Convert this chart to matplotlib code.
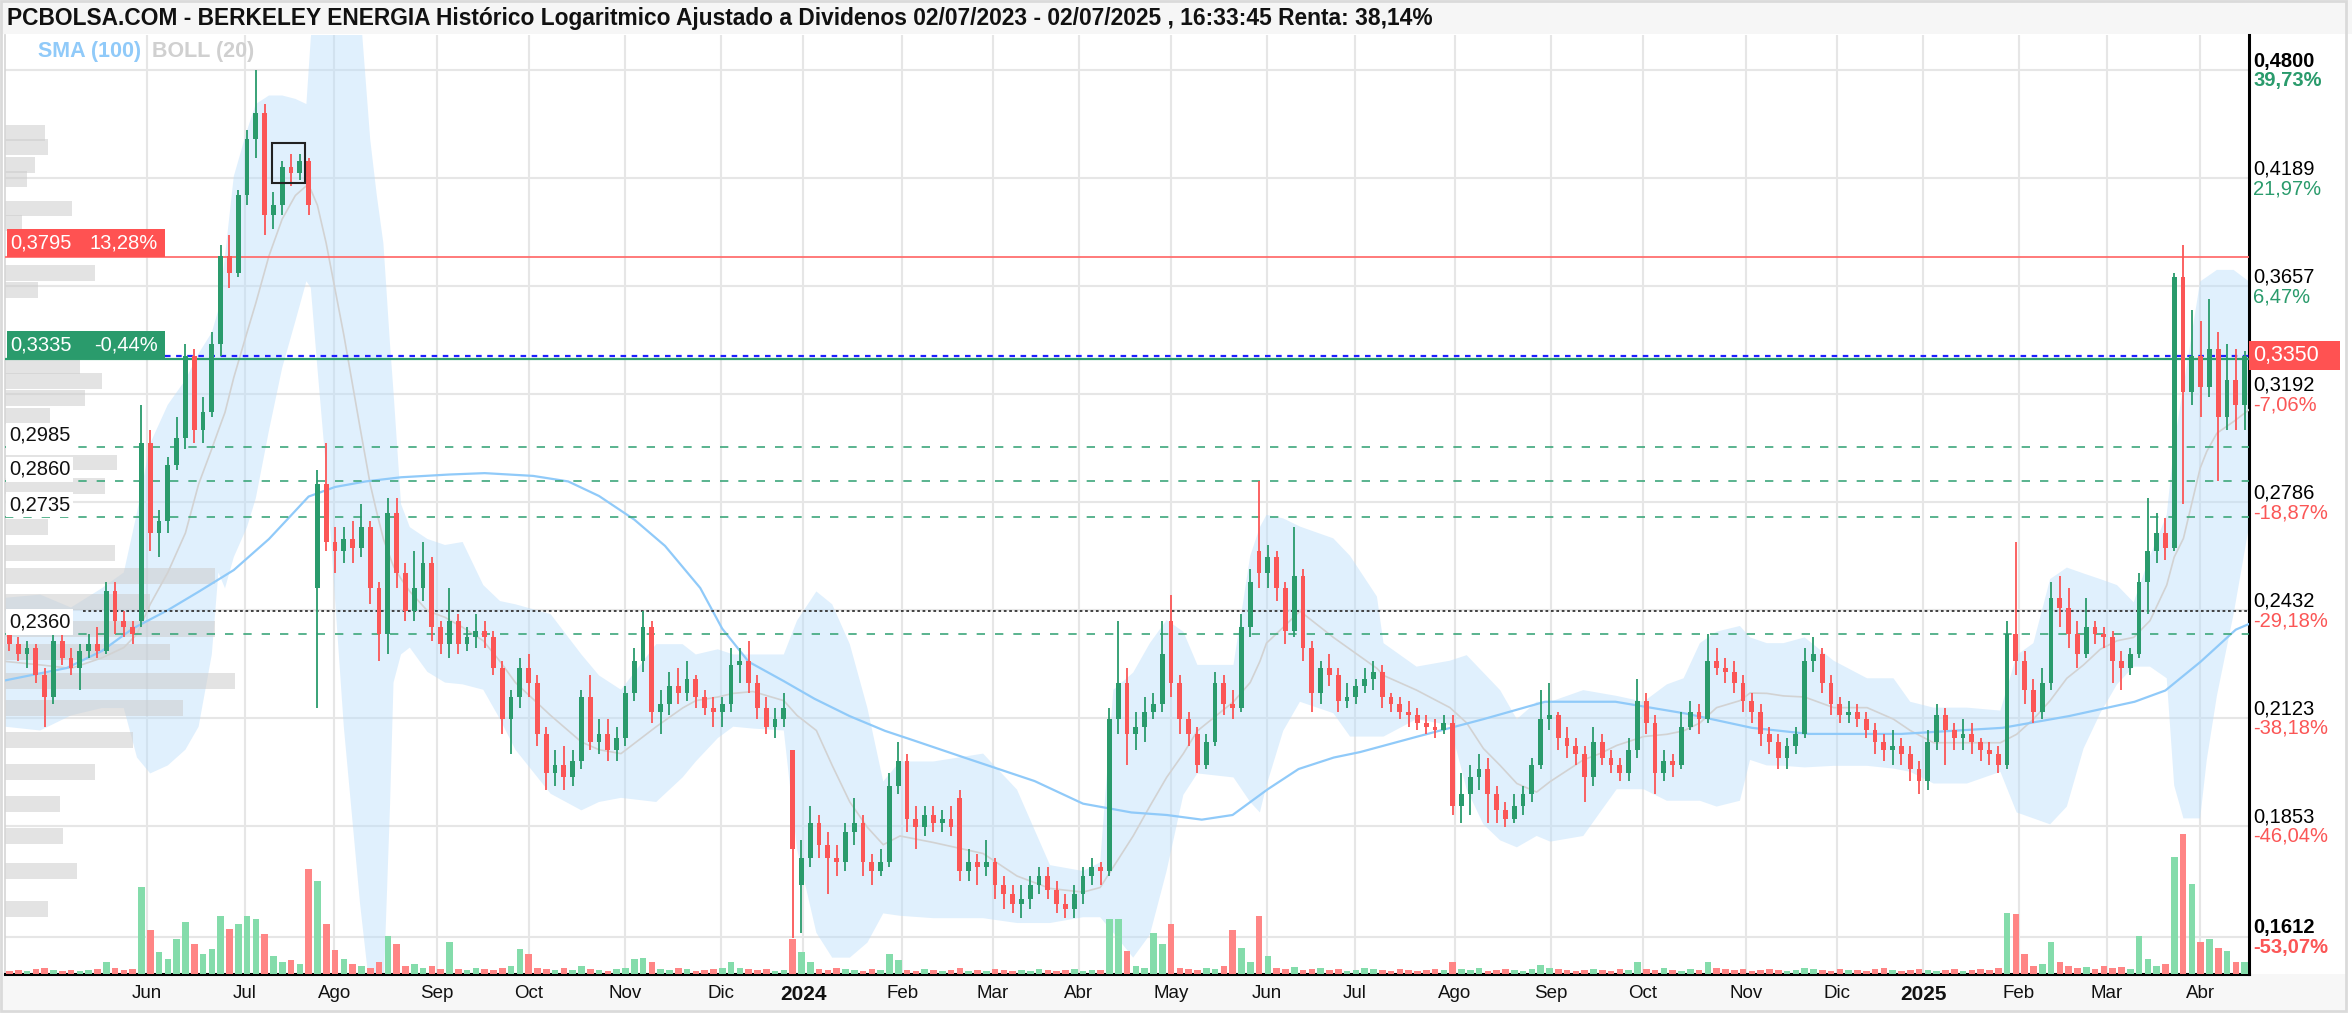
import numpy as np
import matplotlib
matplotlib.use("Agg")
import matplotlib.pyplot as plt
from matplotlib.patches import Rectangle
from matplotlib.transforms import blended_transform_factory, IdentityTransform

plt.rcParams['font.family'] = ['Liberation Sans', 'DejaVu Sans']

#####################################################################
### Datos (una vela cada dos sesiones, eje x = indice de sesion)

opens = [.236,.233,.230,.232,.224,.218,.234,.229,.226,.231,
         .233,.231,.249,.240,.238,.240,.300,.268,.272,.292,
         .302,.335,.305,.312,.340,.380,.372,.410,.440,.455,
         .400,.405,.425,.422,.428,.250,.285,.265,.262,.266,
         .263,.270,.250,.236,.275,.255,.243,.250,.258,.238,
         .233,.240,.233,.235,.237,.235,.226,.212,.218,.226,
         .222,.208,.198,.200,.197,.201,.218,.206,.208,.204,
         .207,.219,.228,.238,.214,.216,.221,.219,.223,.218,
         .215,.214,.216,.227,.228,.222,.215,.210,.212,.204,
         .172,.178,.186,.181,.178,.177,.184,.186,.177,.175,
         .177,.195,.201,.187,.185,.188,.186,.187,.192,.175,
         .177,.176,.177,.172,.170,.168,.169,.172,.174,.171,
         .168,.167,.170,.174,.176,.175,.212,.222,.208,.210,
         .214,.216,.240,.222,.212,.208,.200,.206,.222,.216,
         .215,.238,.262,.255,.260,.250,.237,.254,.232,.219,
         .226,.224,.217,.218,.221,.223,.225,.218,.216,.214,
         .213,.211,.210,.209,.211,.190,.193,.197,.199,.193,
         .189,.187,.190,.193,.200,.212,.213,.207,.205,.203,
         .197,.206,.202,.200,.198,.204,.217,.211,.198,.201,
         .200,.210,.214,.212,.228,.226,.225,.222,.217,.214,
         .208,.206,.202,.205,.208,.228,.230,.222,.216,.213,
         .214,.212,.209,.206,.204,.205,.203,.199,.196,.206,
         .213,.209,.207,.208,.206,.204,.203,.200,.236,.228,
         .220,.214,.222,.247,.244,.236,.230,.238,.236,.235,
         .228,.226,.230,.252,.262,.268,.263,.370,.320,.335,
         .322,.338,.310,.325,.315]

closes = [.233,.230,.232,.224,.218,.234,.229,.226,.231,.233,
          .231,.249,.240,.238,.236,.300,.268,.272,.292,.302,
          .335,.305,.312,.340,.380,.372,.410,.440,.455,.400,
          .405,.425,.422,.428,.405,.285,.265,.262,.266,.263,
          .270,.250,.236,.275,.255,.243,.250,.258,.238,.233,
          .240,.233,.235,.237,.235,.226,.212,.218,.226,.222,
          .208,.198,.200,.197,.201,.218,.206,.208,.204,.207,
          .219,.228,.238,.214,.216,.221,.219,.223,.218,.215,
          .214,.216,.227,.228,.222,.215,.210,.212,.215,.180,
          .178,.186,.181,.178,.177,.184,.186,.177,.175,.177,
          .195,.201,.187,.185,.188,.186,.187,.185,.175,.177,
          .176,.177,.172,.170,.168,.169,.172,.174,.171,.168,
          .167,.170,.174,.176,.175,.212,.222,.208,.210,.214,
          .216,.230,.222,.212,.208,.200,.206,.222,.216,.215,
          .238,.252,.255,.260,.250,.237,.254,.232,.219,.226,
          .224,.217,.218,.221,.223,.225,.218,.216,.214,.213,
          .211,.210,.209,.211,.190,.193,.197,.199,.193,.189,
          .187,.190,.193,.200,.212,.213,.207,.205,.203,.197,
          .206,.202,.200,.198,.204,.217,.211,.198,.201,.200,
          .210,.214,.212,.228,.226,.225,.222,.217,.214,.208,
          .206,.202,.205,.208,.228,.230,.222,.216,.213,.214,
          .212,.209,.206,.204,.205,.203,.199,.196,.206,.213,
          .209,.207,.208,.206,.204,.203,.200,.236,.228,.220,
          .214,.222,.247,.244,.236,.230,.238,.236,.235,.228,
          .226,.230,.252,.262,.268,.263,.370,.320,.335,.322,
          .338,.310,.325,.315,.335]

highs = [.238,.235,.234,.233,.226,.236,.236,.232,.233,.236,
         .238,.252,.252,.243,.240,.315,.305,.276,.295,.310,
         .340,.338,.318,.345,.385,.390,.413,.445,.480,.460,
         .412,.428,.432,.432,.430,.290,.300,.270,.270,.272,
         .278,.272,.252,.280,.280,.258,.262,.265,.260,.240,
         .250,.242,.238,.242,.240,.237,.228,.220,.229,.230,
         .224,.210,.204,.205,.204,.220,.224,.212,.212,.210,
         .221,.232,.243,.240,.220,.225,.226,.228,.224,.220,
         .218,.218,.232,.232,.234,.224,.218,.215,.219,.204,
         .182,.190,.188,.184,.181,.186,.192,.188,.179,.180,
         .198,.206,.203,.190,.190,.190,.189,.190,.194,.180,
         .179,.182,.178,.174,.172,.172,.174,.176,.176,.173,
         .170,.172,.176,.178,.177,.215,.240,.226,.214,.218,
         .219,.240,.248,.224,.214,.210,.208,.225,.224,.220,
         .242,.256,.286,.264,.262,.252,.270,.256,.234,.228,
         .230,.226,.222,.223,.226,.228,.227,.219,.218,.217,
         .215,.213,.212,.213,.213,.198,.200,.203,.202,.195,
         .191,.193,.195,.202,.220,.222,.214,.210,.207,.205,
         .210,.208,.204,.202,.207,.223,.219,.213,.204,.203,
         .214,.217,.216,.236,.232,.229,.228,.224,.219,.216,
         .210,.208,.207,.210,.232,.235,.232,.224,.218,.217,
         .216,.214,.211,.208,.209,.207,.205,.201,.209,.216,
         .215,.211,.212,.211,.207,.206,.205,.240,.265,.231,
         .223,.226,.252,.254,.250,.240,.247,.240,.238,.237,
         .231,.232,.255,.280,.275,.273,.372,.385,.355,.350,
         .360,.345,.340,.338,.337]

lows = [.231,.228,.226,.222,.210,.216,.227,.224,.220,.229,
        .229,.230,.236,.235,.233,.238,.262,.260,.268,.290,
        .298,.300,.300,.310,.335,.365,.370,.405,.430,.390,
        .393,.400,.415,.418,.400,.215,.262,.255,.258,.258,
        .260,.245,.228,.230,.250,.240,.240,.246,.234,.230,
        .229,.230,.231,.232,.232,.224,.208,.203,.215,.218,
        .205,.194,.195,.194,.195,.199,.204,.203,.201,.201,
        .205,.217,.225,.211,.208,.213,.216,.217,.215,.213,
        .210,.210,.214,.222,.219,.212,.208,.207,.210,.161,
        .162,.176,.178,.170,.174,.175,.181,.174,.172,.174,
        .176,.193,.184,.180,.183,.184,.184,.183,.173,.173,
        .172,.174,.169,.167,.166,.165,.167,.170,.169,.166,
        .165,.165,.168,.172,.172,.174,.208,.200,.204,.206,
        .212,.214,.218,.208,.205,.198,.199,.205,.213,.212,
        .214,.235,.250,.250,.246,.233,.235,.228,.214,.216,
        .221,.214,.215,.216,.219,.220,.215,.214,.212,.210,
        .209,.208,.207,.208,.188,.186,.188,.194,.186,.186,
        .185,.186,.188,.191,.199,.209,.204,.202,.200,.191,
        .195,.200,.198,.196,.196,.202,.208,.193,.196,.197,
        .199,.209,.208,.211,.224,.222,.219,.214,.211,.205,
        .203,.199,.199,.203,.207,.225,.219,.213,.211,.211,
        .210,.207,.203,.201,.200,.200,.196,.193,.194,.204,
        .200,.204,.204,.203,.201,.200,.198,.199,.224,.216,
        .211,.212,.220,.238,.232,.226,.229,.233,.232,.222,
        .220,.224,.229,.242,.258,.259,.262,.278,.315,.310,
        .318,.286,.305,.305,.305]

volume = [3,4,3,5,6,4,3,4,3,4,
          5,12,6,4,5,87,44,22,15,35,
          52,30,20,25,58,45,50,58,55,40,
          18,12,14,10,105,93,50,24,15,10,
          8,6,12,38,30,8,10,6,8,5,
          32,5,4,6,5,4,6,8,25,20,
          6,5,4,6,4,8,5,4,3,5,
          6,15,16,12,5,4,6,5,3,4,
          5,6,12,6,5,4,5,3,4,35,
          22,12,5,4,6,5,4,3,5,4,
          20,14,4,3,5,4,3,4,6,3,
          4,3,5,4,3,4,3,5,4,3,
          4,5,3,4,4,55,55,23,8,6,
          41,30,50,6,5,4,6,5,8,44,
          26,12,58,18,6,5,7,4,5,6,
          4,5,3,4,6,5,4,3,5,4,
          3,4,5,4,12,5,4,6,3,4,
          5,4,3,5,9,6,5,4,3,4,
          5,4,3,5,4,12,5,4,6,4,
          3,5,4,12,6,5,4,5,3,4,
          5,4,3,4,6,5,4,3,5,4,
          4,3,5,6,4,3,4,5,4,3,
          4,5,3,4,5,4,6,61,60,20,
          8,10,32,12,8,6,7,5,8,6,
          7,5,38,15,8,10,117,140,90,32,
          35,26,23,12,12]

# SMA (100)
sma_day = [0,14,22,29,37,44,52,60,65,69,75,82,90,101,109,120,128,135,143,150,
           158,163,169,177,184,192,200,206,218,234,245,256,264,272,279,287,294,302,308,321,
           336,350,366,382,397,410,431,454,469,484,491,499,507,510]
sma_val = [.2226,.2261,.2310,.2376,.2432,.2489,.2558,.2660,.2740,.2806,
           .2840,.2860,.2875,.2885,.2890,.2880,.2860,.2808,.2726,.2637,
           .2501,.2376,.2279,.2224,.2175,.2128,.2089,.2066,.2020,.1961,
           .1906,.1885,.1879,.1868,.1879,.1941,.1991,.2020,.2034,.2074,
           .2120,.2167,.2167,.2135,.2097,.2081,.2081,.2097,.2128,.2167,
           .2198,.2279,.2373,.2390]

# BOLL (20)
bb_day = [0,8,15,22,27,30,33,37,41,44,
          47,48.5,50,52,55,57,60,63,66,68.5,
          69.5,71,73,77,80.7,83,84.5,86,87.5,88.3,
          90,92,96,100,104,108.7,112.5,116,124,131,
          135,140,148,154,157,162,165.5,170,177,180,
          184.4,188,192,196,199.6,203.4,211,222.3,230,237.5,
          245,248.9,251.9,256.4,260.2,264,267.8,271,279.2,283,
          285.2,286.7,290.5,294.3,301.9,305.7,311.8,313.3,320.8,328.4,
          332.2,336,339.8,343.6,348.1,351.2,358.7,362.5,366.3,372.4,
          377.7,381.5,385.2,389,394.3,396.6,400.4,404.2,409,415.6,
          423.2,429.2,433,438.3,445.9,453.5,457.2,461,464.8,468.6,
          472.4,476.2,480,483.8,487.5,491.3,493,495.1,498.9,500.4,
          502.7,506.5,510]
bb_up = [.247,.248,.244,.250,.255,.275,.300,.315,.325,.336,
         .345,.355,.380,.420,.445,.460,.465,.465,.463,.460,
         .500,.540,.560,.570,.520,.440,.410,.386,.340,.320,
         .278,.270,.266,.264,.265,.251,.246,.245,.242,.230,
         .224,.220,.233,.233,.230,.2315,.230,.230,.230,.240,
         .249,.245,.233,.215,.196,.201,.201,.203,.194,.1764,
         .1751,.177,.220,.2248,.2333,.2402,.2367,.227,.227,.2604,
         .270,.2742,.273,.2702,.2662,.2604,.2474,.2333,.2265,.2282,
         .2298,.2248,.2199,.212,.2167,.2167,.2199,.2191,.2183,.2167,
         .2215,.2232,.2333,.2367,.2384,.235,.2333,.2333,.235,.2282,
         .2232,.2232,.2167,.2151,.2151,.2143,.2298,.2333,.2529,.2566,
         .2547,.2529,.251,.2456,.2604,.2742,.300,.3223,.3679,.370,
         .3733,.3733,.3679]
bb_mid = [.228,.227,.226,.229,.232,.236,.245,.255,.268,.285,
          .298,.305,.312,.326,.345,.358,.380,.398,.410,.415,
          .413,.405,.386,.344,.306,.285,.275,.266,.260,.257,
          .253,.249,.243,.241,.238,.234,.228,.222,.213,.206,
          .204,.203,.210,.215,.217,.218,.219,.2195,.217,.213,
          .209,.200,.191,.185,.181,.183,.1815,.179,.174,.1713,
          .1705,.1715,.176,.183,.190,.197,.203,.2089,.2167,.222,
          .228,.2333,.238,.2429,.235,.2315,.226,.224,.2199,.2151,
          .211,.2043,.200,.1955,.1934,.196,.2014,.203,.2051,.2074,
          .208,.2089,.211,.2151,.217,.2191,.219,.2183,.218,.2151,
          .2151,.212,.209,.2058,.2058,.2058,.208,.212,.217,.2232,
          .227,.2315,.234,.235,.240,.251,.260,.2662,.2908,.297,
          .3039,.3084,.313]
bb_low = [.210,.209,.213,.215,.215,.202,.198,.200,.204,.210,
          .230,.255,.250,.260,.270,.280,.305,.330,.350,.368,
          .365,.330,.290,.210,.168,.150,.145,.150,.190,.222,
          .230,.232,.225,.222,.2215,.220,.212,.204,.193,.189,
          .191,.192,.191,.197,.201,.207,.210,.2095,.209,.180,
          .162,.157,.157,.160,.166,.1655,.165,.165,.164,.164,
          .1652,.1652,.162,.157,.1616,.1751,.1927,.198,.197,.191,
          .1885,.195,.2089,.2167,.2136,.2074,.2074,.2074,.212,.2104,
          .1941,.1857,.182,.1804,.183,.1817,.183,.1885,.1941,.1941,
          .1913,.1913,.1913,.1899,.1913,.2014,.200,.1999,.1995,.1999,
          .1999,.1992,.1984,.1955,.1955,.1984,.1885,.1871,.1857,.1899,
          .2043,.2136,.2215,.2265,.2265,.2232,.195,.1871,.1871,.2014,
          .2183,.242,.2702]

# perfil de volumen (izquierda)
vp_price = [.4437,.4357,.4261,.4184,.4033,.3960,.3720,.3639,.3307,.3247,
            .3176,.3106,.2929,.2845,.2702,.2614,.2539,.2456,.2376,.2307,
            .2224,.2151,.2066,.1984,.1906,.1830,.1751,.1670]
vp_volume = [40,43,30,22,67,17,90,33,75,97,
             80,45,112,100,43,110,210,145,210,165,
             230,178,128,90,55,58,72,43]

# eje de fechas
month_pos = [32.3,54.5,74.8,98.2,119,141,162.7,181.4,203.9,224.5,244,265,
             286.8,306.8,329.5,351.4,372.3,395.7,416.4,436,457.7,477.7,498.9]
month_lbl = ['Jun','Jul','Ago','Sep','Oct','Nov','Dic','2024','Feb','Mar','Abr','May',
             'Jun','Jul','Ago','Sep','Oct','Nov','Dic','2025','Feb','Mar','Abr']

# escala derecha
right_ticks = [0.4800,0.4189,0.3657,0.3192,0.2786,0.2432,0.2123,0.1853,0.1612]
right_pct = ['39,73%','21,97%','6,47%','-7,06%','-18,87%','-29,18%','-38,18%','-46,04%','-53,07%']

# niveles
resist_lvl, resist_txt = 0.3795, ['0,3795', '13,28%']
support_lvl, support_txt = 0.3335, ['0,3335', '-0,44%']
last_price = 0.3350
dashed_lvls = [0.2985, 0.2860, 0.2735, 0.2360]
ref_lvl = 0.2428
box_days, box_prices = (60.7, 68.2), (0.4165, 0.438)

title = ("PCBOLSA.COM - BERKELEY ENERGIA Histórico Logaritmico Ajustado a Dividenos "
         "02/07/2023 - 02/07/2025 , 16:33:45 Renta: 38,14%")

#####################################################################
### Figura

GREEN, RED = '#2a9b6c', '#fb5656'
VGREEN, VRED = '#84dcab', '#ff8585'

W, H = 2352, 1016
fig = plt.figure(figsize=(W / 100, H / 100), dpi=100)
fig.patch.set_facecolor('white')
fig.patches.append(Rectangle((0, 1 - 34 / H), 1, 34 / H, transform=fig.transFigure,
                             fc='#f6f6f6', ec='none', zorder=-2))
fig.patches.append(Rectangle((0, 6 / H), 2346 / W, 36 / H, transform=fig.transFigure,
                             fc='#f7f7f7', ec='none', zorder=-2))
fig.patches.append(Rectangle((1 / W, 5 / H), 2345 / W, 1 - 6 / H, transform=fig.transFigure,
                             fill=False, ec='#dadada', lw=2, zorder=-1))

ax = fig.add_axes([5 / W, 42 / H, 2244 / W, 939 / H])
ax.set_yscale('log')
ax.set_xlim(0, 510)
ax.set_ylim(0.1538, 0.5018)
ax.yaxis.set_major_locator(matplotlib.ticker.NullLocator())
ax.yaxis.set_minor_locator(matplotlib.ticker.NullLocator())
ax.set_facecolor('none')

for p in right_ticks:
    ax.axhline(p, color='#e6e6e6', lw=1.5, zorder=0)
for m in month_pos:
    ax.axvline(m, color='#e6e6e6', lw=1.5, zorder=0)

# bandas de bollinger y medias
ax.fill_between(bb_day, bb_low, bb_up, color='#bbdefb', alpha=0.45, lw=0, zorder=1)
ax.plot(bb_day, bb_mid, color='#d2d2d2', lw=1.2, zorder=3)
ax.plot(sma_day, sma_val, color='#90caf9', lw=1.6, zorder=3)

# perfil de volumen
tp = blended_transform_factory(ax.transAxes, ax.transData)
vp_price = np.array(vp_price)
ax.barh(vp_price, np.array(vp_volume) / 2244, height=vp_price * 0.02, left=0,
        color='#cccccc', alpha=0.55, lw=0, transform=tp, zorder=2)

# niveles horizontales
ax.axhline(resist_lvl, color='#ff6f6f', lw=1.3, zorder=4)
ax.axhline(support_lvl, color='#2e9e6e', lw=1.6, zorder=4)
ax.plot([36.4, 510], [last_price, last_price], color='#2020ff', lw=1.6,
        ls=(0, (2.5, 2.5)), zorder=4)
for lv in dashed_lvls:
    ax.axhline(lv, color='#3da77b', lw=1.2, ls=(0, (5, 6)), zorder=4)
ax.plot([17.7, 510], [ref_lvl, ref_lvl], color='#333333', lw=1.3, ls=(0, (1.5, 1.5)), zorder=4)

# volumen
o, c, h, l = map(np.array, (opens, closes, highs, lows))
x = np.arange(len(c)) * 2 + 1
up = c >= o
tv = blended_transform_factory(ax.transData, ax.transAxes)
ax.bar(x, np.array(volume) / 939, bottom=0, width=1.5,
       color=np.where(up, VGREEN, VRED), lw=0, transform=tv, zorder=3)

# velas
col = np.where(up, GREEN, RED)
ax.vlines(x, l, h, colors=col, lw=1.3, zorder=5)
lo = np.minimum(o, c)
hi = np.maximum(np.maximum(o, c), lo * 1.004)
ax.bar(x, hi - lo, bottom=lo, width=1.1, color=col, lw=0, zorder=5)

ax.add_patch(Rectangle((box_days[0], box_prices[0]), box_days[1] - box_days[0],
                       box_prices[1] - box_prices[0], fill=False, ec='#222222', lw=1.5, zorder=6))

ax.spines['top'].set_visible(False)
ax.spines['left'].set_color('#d5d5d5')
ax.spines['left'].set_linewidth(1.2)
for side in ('bottom', 'right'):
    ax.spines[side].set_color('black')
    ax.spines[side].set_linewidth(2.2)

ax.set_xticks(month_pos)
ax.set_xticklabels(month_lbl)
ax.tick_params(axis='x', length=0, pad=8, labelsize=13.5, labelcolor='#111111')
for t in ax.get_xticklabels():
    if t.get_text().isdigit():
        t.set_fontweight('bold')
        t.set_fontsize(15)

# escala derecha
tr = blended_transform_factory(ax.transAxes, ax.transData)
for i, (p, pct) in enumerate(zip(right_ticks, right_pct)):
    fw = 'bold' if i in (0, len(right_ticks) - 1) else 'normal'
    pc = RED if pct.startswith('-') else GREEN
    ax.annotate(f'{p:.4f}'.replace('.', ','), xy=(1, p), xycoords=tr, xytext=(3, 6.5),
                textcoords='offset points', va='center', ha='left', fontsize=14.5,
                fontweight=fw, color='black', annotation_clip=False)
    ax.annotate(pct, xy=(1, p), xycoords=tr, xytext=(3, -7.5), textcoords='offset points',
                va='center', ha='left', fontsize=14.5, fontweight=fw, color=pc,
                annotation_clip=False)

fig.canvas.draw()
idt = IdentityTransform()


def ypix(p):
    return ax.transData.transform((0, p))[1]


# etiqueta del ultimo precio
yl = ypix(last_price)
fig.patches.append(Rectangle((2249, yl - 14.5), 91, 29, transform=idt, fc='#ff5252',
                             ec='none', zorder=3))
fig.text(2253, yl, '0,3350', transform=idt, va='center', ha='left', fontsize=15.5,
         color='white', zorder=4)

# etiquetas de niveles a la izquierda
for lvl, txt, fc in ((resist_lvl, resist_txt, '#ff5252'), (support_lvl, support_txt, '#2a9b6c')):
    yb = ypix(lvl)
    fig.patches.append(Rectangle((7, yb), 158, 28, transform=idt, fc=fc, ec='none', zorder=3))
    fig.text(10, yb + 14, txt[0], transform=idt, va='center', ha='left', fontsize=14.5,
             color='white', zorder=4)
    fig.text(158, yb + 14, txt[1], transform=idt, va='center', ha='right', fontsize=14.5,
             color='white', zorder=4)

for lv in dashed_lvls:
    fig.text(9, ypix(lv) + 12, f'{lv:.4f}'.replace('.', ','), transform=idt, va='center',
             ha='left', fontsize=14.5, color='#111111', zorder=4,
             bbox=dict(boxstyle='square,pad=0.15', fc='white', ec='none'))

# titulo y leyenda
fig.text(7, H - 19, title, transform=idt, va='center', ha='left', fontsize=16.4,
         fontweight='bold', color='#111111')
fig.text(38, H - 52, 'SMA (100)', transform=idt, va='center', ha='left', fontsize=15.5,
         fontweight='bold', color='#90caf9')
fig.text(152, H - 52, 'BOLL (20)', transform=idt, va='center', ha='left', fontsize=15.5,
         fontweight='bold', color='#d0d0d0')

fig.savefig('out.png', dpi=100)
